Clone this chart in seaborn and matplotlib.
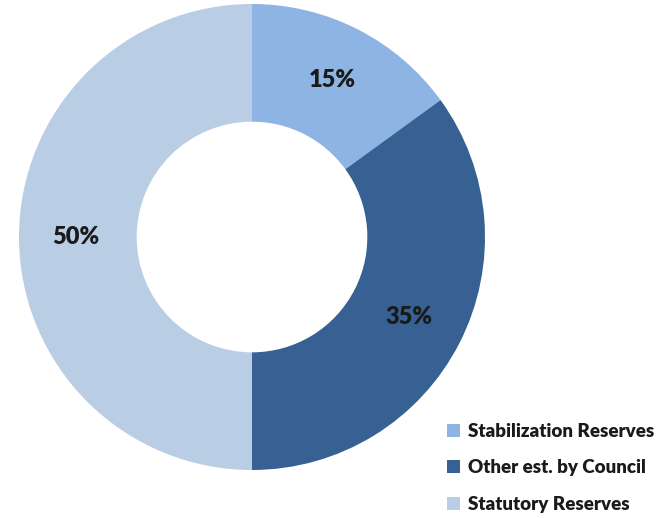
import matplotlib
matplotlib.use("Agg")
import matplotlib.pyplot as plt
import seaborn as sns
from matplotlib.patches import Patch

categories = ["Stabilization Reserves", "Other est. by Council", "Statutory Reserves"]
values = [15, 35, 50]
colors = ["#8DB4E2", "#376193", "#B9CDE5"]

sns.set_theme(style="white")
plt.rcParams['font.family'] = ['Lato', 'DejaVu Sans']

fig = plt.figure(figsize=(6.64, 5.18), dpi=100)
W, H = 664, 518
cx, cy, R = 252, 237, 233
ax = fig.add_axes([(cx - R) / W, (H - cy - R) / H, 2 * R / W, 2 * R / H])
wedges, texts, autotexts = ax.pie(
    values, colors=colors, startangle=90, counterclock=False,
    radius=1.0, autopct=lambda p: f"{p:.0f}%", pctdistance=0.755,
    wedgeprops=dict(width=0.505, linewidth=0),
    textprops=dict(fontsize=17, fontweight='heavy', color='#1a1a1a'))
ax.set_xlim(-1, 1)
ax.set_ylim(-1, 1)
ax.set_aspect('equal')
ax.axis('off')

handles = [Patch(facecolor=c, edgecolor='none') for c in colors]
leg = fig.legend(handles, categories, loc='lower left',
                 bbox_to_anchor=(430 / W, -12 / H), frameon=False,
                 prop=dict(family=['Lato', 'DejaVu Sans'], weight='heavy', size=13.5),
                 handlelength=0.7, handleheight=0.7, handletextpad=0.45,
                 labelspacing=1.05, labelcolor='#1a1a1a')

fig.savefig("out.png", dpi=100, facecolor='white')
